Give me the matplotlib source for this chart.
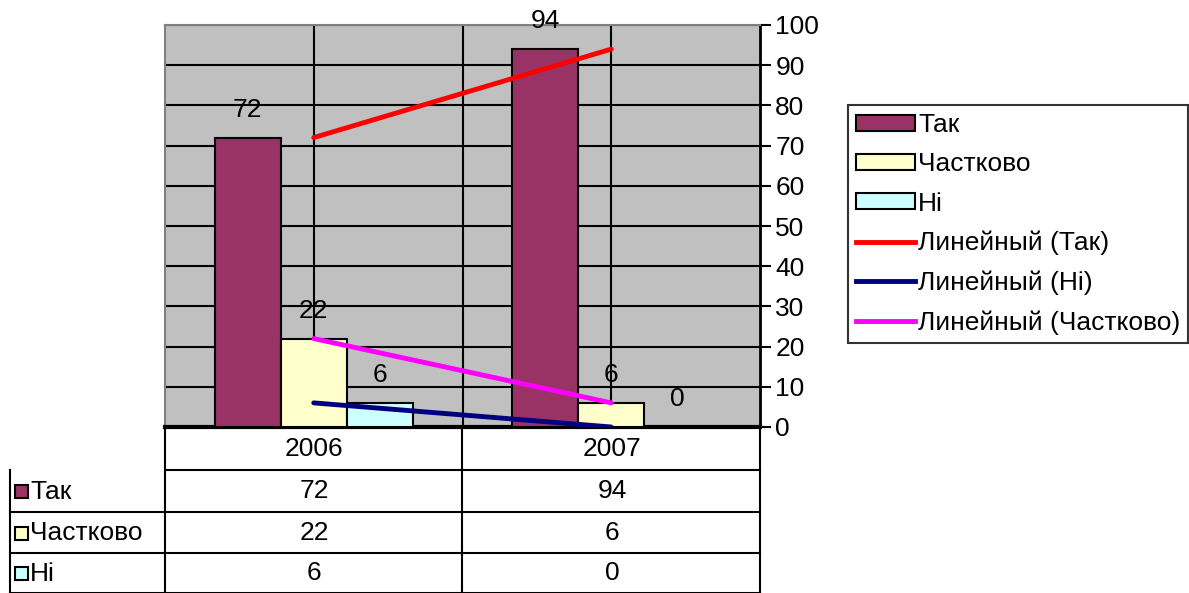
import numpy as np
import matplotlib
matplotlib.use('Agg')
from matplotlib import pyplot as plt
from matplotlib.patches import Patch, Rectangle
from matplotlib.lines import Line2D

plt.rcParams['font.family'] = ['Liberation Sans', 'DejaVu Sans']

years = ['2006', '2007']
series = ['Так', 'Частково', 'Ні']
values = {
    'Так': [72, 94],
    'Частково': [22, 6],
    'Ні': [6, 0],
}
colors = {'Так': '#993366', 'Частково': '#FFFFCC', 'Ні': '#CCFFFF'}
trend_order = [('Так', '#FF0000'), ('Ні', '#000080'), ('Частково', '#FF00FF')]

W, H = 1189, 593
fig = plt.figure(figsize=(W / 100, H / 100), dpi=100)
fs = 19

# plot area in pixel coordinates
x0, x1, ytop, ybot = 165, 760, 25, 427
ax = fig.add_axes([x0 / W, 1 - ybot / H, (x1 - x0) / W, (ybot - ytop) / H])
ax.set_facecolor('#C0C0C0')
ax.set_xlim(-0.5, 1.5)
ax.set_ylim(0, 100)

x = np.arange(len(years))
bw = 2 / 9
for i, s in enumerate(series):
    xs = x + (i - 1) * bw
    ax.bar(xs, values[s], width=bw, color=colors[s], edgecolor='black', lw=1.5, zorder=3)
    for xx, v in zip(xs, values[s]):
        ax.annotate(str(v), (xx, v), xytext=(0, 20), textcoords='offset points',
                    ha='center', va='center', fontsize=fs, zorder=6)

# linear trend lines
for s, c in trend_order:
    k, b = np.polyfit(x, values[s], 1)
    ax.plot(x, k * x + b, color=c, lw=3.5, zorder=5, solid_capstyle='round')

ax.set_yticks(np.arange(0, 101, 10))
ax.yaxis.tick_right()
ax.tick_params(axis='y', direction='out', length=8, width=1.5, labelsize=fs, pad=3)
ax.set_xticks([0, 0.5, 1])
ax.tick_params(axis='x', length=0, labelbottom=False)
ax.grid(True, color='black', lw=1.5, zorder=1)
ax.set_axisbelow(True)
for sp in ['top', 'left']:
    ax.spines[sp].set_color('#808080')
    ax.spines[sp].set_linewidth(1.5)
ax.spines['right'].set_linewidth(2)
ax.spines['bottom'].set_linewidth(3)

# data table below the chart (pixel coordinates)
tab = fig.add_axes([0, 0, 1, 1])
tab.set_xlim(0, W)
tab.set_ylim(H, 0)
tab.axis('off')
row_y = [427, 470, 512, 553, 593]
lk = dict(color='black', lw=1.5)
tab.plot([x0, x1], [row_y[1], row_y[1]], **lk)
for yy in row_y[2:]:
    tab.plot([10, x1], [yy - 0.5, yy - 0.5], **lk)
tab.plot([10, 10], [row_y[1], H], **lk)
tab.plot([x0, x0], [ybot, H], **lk)
tab.plot([462, 462], [ybot, H], **lk)
tab.plot([x1, x1], [ybot, H], **lk)
cx = [314, 612]
for j, yr in enumerate(years):
    tab.text(cx[j], (row_y[0] + row_y[1]) / 2, yr, ha='center', va='center', fontsize=fs)
for i, s in enumerate(series):
    ym = (row_y[i + 1] + row_y[i + 2]) / 2
    tab.add_patch(Rectangle((15, ym - 6), 13, 13, facecolor=colors[s], edgecolor='black', lw=1.5))
    tab.text(30, ym + 1, s, ha='left', va='center', fontsize=fs)
    for j in range(len(years)):
        tab.text(cx[j], ym, str(values[s][j]), ha='center', va='center', fontsize=fs)

# legend
handles = [Patch(facecolor=colors[s], edgecolor='black', lw=1.5, label=s) for s in series]
handles += [Line2D([], [], color=c, lw=3.5, label=f'Линейный ({s})') for s, c in trend_order]
leg = fig.legend(handles=handles, loc='upper left', bbox_to_anchor=(848 / W, 1 - 105 / H),
                 fontsize=fs, frameon=True, fancybox=False, edgecolor='black',
                 handlelength=2.25, handleheight=0.55, handletextpad=0.1,
                 labelspacing=0.58, borderpad=0.3, borderaxespad=0)
leg.get_frame().set_linewidth(1.5)

fig.savefig('out.png', dpi=100)
